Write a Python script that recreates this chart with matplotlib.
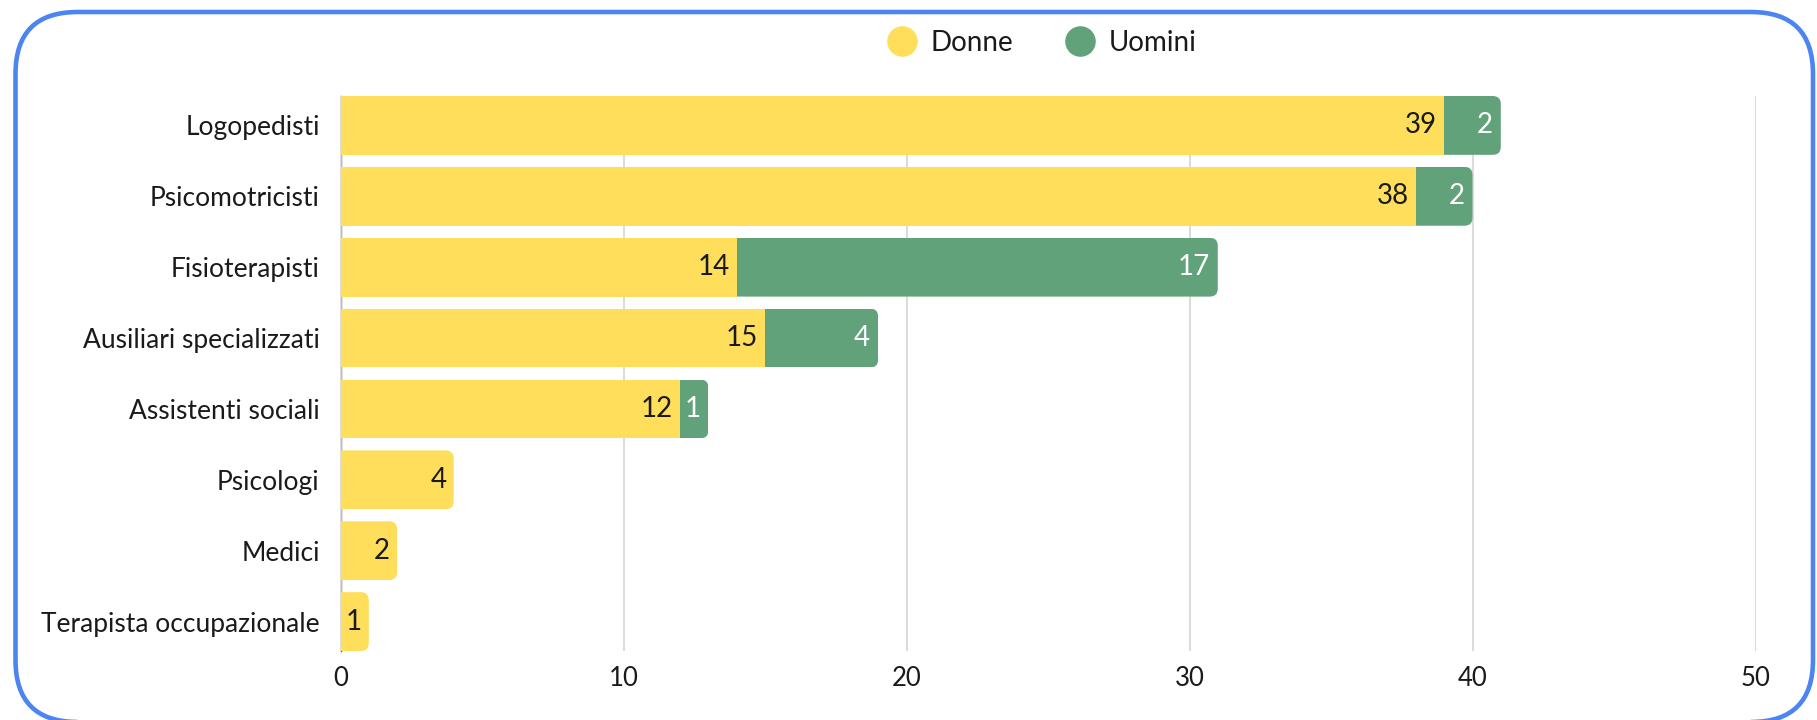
import matplotlib
matplotlib.use('Agg')
from matplotlib import pyplot as plt
from matplotlib.patches import FancyBboxPatch
from matplotlib.lines import Line2D
from matplotlib.transforms import IdentityTransform

plt.rcParams['font.family'] = ['Lato', 'DejaVu Sans']

categories = ['Logopedisti', 'Psicomotricisti', 'Fisioterapisti',
              'Ausiliari specializzati', 'Assistenti sociali', 'Psicologi',
              'Medici', 'Terapista occupazionale']
donne = [39, 38, 14, 15, 12, 4, 2, 1]
uomini = [2, 2, 17, 4, 1, 0, 0, 0]
series_names = ['Donne', 'Uomini']
x_ticks = [0, 10, 20, 30, 40, 50]

yellow = '#FFDE5C'
green = '#62A27B'
blue = '#4C84F1'
text_col = '#1a1a1a'

W, H, DPI = 1817, 720, 100
fig = plt.figure(figsize=(W / DPI, H / DPI), dpi=DPI)
ax = fig.add_axes([340.5 / W, 69 / H, 1415 / W, 555 / H])

bar_h = 0.83
ypos = list(range(len(categories)))
bars_d = ax.barh(ypos, donne, height=bar_h, color=yellow, zorder=2)
bars_u = ax.barh(ypos, uomini, left=donne, height=bar_h, color=green, zorder=2)

ax.set_xlim(0, 50)
ax.set_ylim(len(categories) - 1 + bar_h / 2, -bar_h / 2)
ax.set_xticks(x_ticks)
ax.set_yticks(ypos)
ax.set_yticklabels(categories)
ax.tick_params(axis='y', length=0, pad=15, labelsize=19, labelcolor=text_col)
ax.tick_params(axis='x', length=0, pad=10.5, labelsize=18.5, labelcolor=text_col)

ax.grid(axis='x', color='#d4d4d4', linewidth=1.2)
ax.grid(axis='y', visible=False)
ax.set_axisbelow(True)
for s in ['top', 'right', 'bottom']:
    ax.spines[s].set_visible(False)
ax.spines['left'].set_color('#555555')
ax.spines['left'].set_linewidth(1)
ax.spines['left'].set_zorder(0.5)

# rounded right end on the outermost segment of each stack
r = 8
for i in ypos:
    bar = bars_u[i] if uomini[i] > 0 else bars_d[i]
    x0, x1 = bar.get_x(), bar.get_x() + bar.get_width()
    (px0, py0), (px1, py1) = ax.transData.transform([(x0, i - bar_h / 2), (x1, i + bar_h / 2)])
    ylo, yhi = min(py0, py1), max(py0, py1)
    clip = FancyBboxPatch((px0 - 2 * r, ylo), px1 - px0 + 2 * r, yhi - ylo,
                          boxstyle='round,pad=0,rounding_size=%d' % r,
                          transform=IdentityTransform(), facecolor='none', edgecolor='none')
    bar.set_clip_path(clip)

# value labels inside the end of each segment
for i in ypos:
    ax.annotate(str(donne[i]), xy=(donne[i], i), xytext=(-7, 0), textcoords='offset pixels',
                ha='right', va='center', fontsize=20, color=text_col, zorder=3)
    if uomini[i] > 0:
        ax.annotate(str(uomini[i]), xy=(donne[i] + uomini[i], i), xytext=(-8, 0),
                    textcoords='offset pixels', ha='right', va='center', fontsize=20,
                    color='white', zorder=3)

handles = [Line2D([], [], marker='o', linestyle='none', markersize=21,
                  markerfacecolor=c, markeredgecolor=c) for c in (yellow, green)]
fig.legend(handles, series_names, loc='center', bbox_to_anchor=(1042 / W, 1 - 43 / H),
           ncol=2, frameon=False, fontsize=20, handlelength=1.05, handletextpad=0.5,
           columnspacing=1.9, labelcolor=text_col)

# rounded blue border round the whole card
border = FancyBboxPatch((15.5, -2), 1797.5, 710, boxstyle='round,pad=0,rounding_size=62',
                        transform=IdentityTransform(), facecolor='none', edgecolor=blue,
                        linewidth=3.3)
fig.patches.append(border)

plt.savefig('out.png', dpi=DPI)
